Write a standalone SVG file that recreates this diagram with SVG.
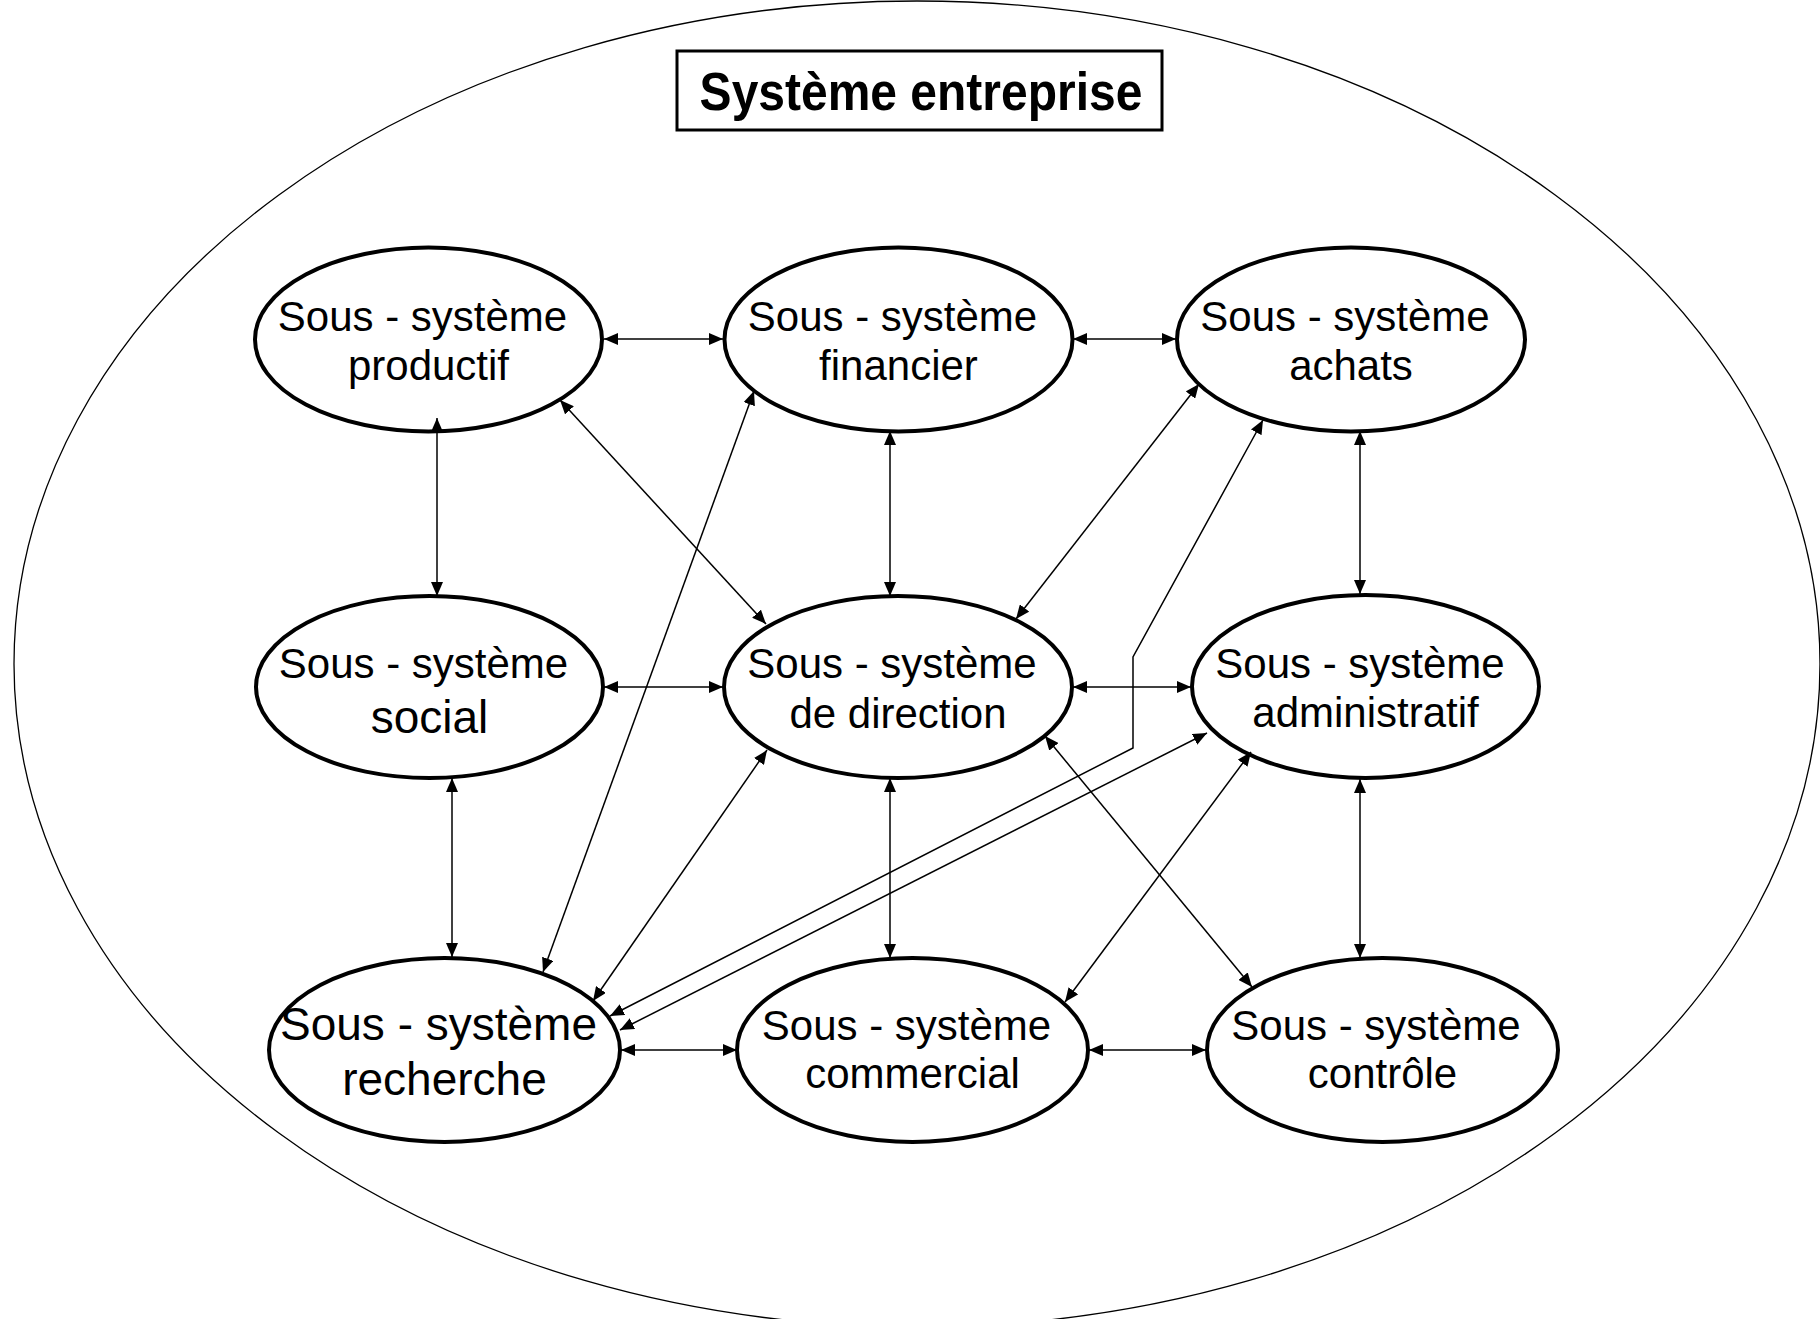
<svg xmlns="http://www.w3.org/2000/svg" width="1820" height="1319" viewBox="0 0 1820 1319">
<style>
.node{fill:#fff;stroke:#000;stroke-width:4}
.t{font-family:"Liberation Sans",Arial,sans-serif;font-size:42px;text-anchor:middle;fill:#000}
.big{font-size:46px}
.c{fill:none;stroke:#000;stroke-width:1.5;marker-start:url(#ah);marker-end:url(#ah)}
</style>
<defs>
<marker id="ah" markerUnits="userSpaceOnUse" markerWidth="14" markerHeight="12" refX="14" refY="6" orient="auto-start-reverse" viewBox="0 0 14 12">
<path d="M0,0 L14,6 L0,12 z" fill="#000"/>
</marker>
</defs>
<rect width="1820" height="1319" fill="#fff"/>
<ellipse id="outer" cx="917" cy="664" rx="903" ry="663" fill="none" stroke="#000" stroke-width="1.3"/>
<g id="title">
<rect x="677" y="51" width="485" height="79" fill="#fff" stroke="#000" stroke-width="3"/>
<text x="921" y="110" font-family="Liberation Sans,Arial,sans-serif" font-weight="bold" font-size="48" text-anchor="middle" transform="translate(0,-11) scale(1,1.1)">Système entreprise</text>
</g>
<g id="n-productif"><ellipse class="node" cx="428.5" cy="339.5" rx="173.5" ry="92"/><text class="t" x="422.5" y="331">Sous - système</text><text class="t" x="428.5" y="380">productif</text></g>
<g id="n-financier"><ellipse class="node" cx="898.5" cy="339.5" rx="174" ry="92"/><text class="t" x="892.5" y="331">Sous - système</text><text class="t" x="898.5" y="380">financier</text></g>
<g id="n-achats"><ellipse class="node" cx="1351" cy="339.5" rx="174" ry="92"/><text class="t" x="1345" y="331">Sous - système</text><text class="t" x="1351" y="380">achats</text></g>
<g id="n-social"><ellipse class="node" cx="429.5" cy="687" rx="173.5" ry="91"/><text class="t" x="423.5" y="678">Sous - système</text><text class="t big" x="429.5" y="733">social</text></g>
<g id="n-direction"><ellipse class="node" cx="898" cy="687" rx="174" ry="91"/><text class="t" x="892" y="678">Sous - système</text><text class="t" x="898" y="728">de direction</text></g>
<g id="n-administratif"><ellipse class="node" cx="1365.5" cy="686.5" rx="173.5" ry="91.5"/><text class="t" x="1360" y="678">Sous - système</text><text class="t" x="1365.5" y="727">administratif</text></g>
<g id="n-recherche"><ellipse class="node" cx="444.5" cy="1050" rx="175.5" ry="92"/><text class="t big" x="438.5" y="1040">Sous - système</text><text class="t big" x="444.5" y="1095">recherche</text></g>
<g id="n-commercial"><ellipse class="node" cx="912.5" cy="1050" rx="175.5" ry="92"/><text class="t" x="906.5" y="1040">Sous - système</text><text class="t" x="912.5" y="1088">commercial</text></g>
<g id="n-controle"><ellipse class="node" cx="1382.5" cy="1050" rx="175.5" ry="92"/><text class="t" x="1376" y="1040">Sous - système</text><text class="t" x="1382.5" y="1088">contrôle</text></g>
<g id="connectors">
<line class="c" x1="604" y1="339" x2="723" y2="339"/>
<line class="c" x1="1073" y1="339" x2="1176" y2="339"/>
<line class="c" x1="437" y1="418" x2="437" y2="596"/>
<line class="c" x1="560" y1="400" x2="766" y2="624"/>
<line class="c" x1="890" y1="431" x2="890" y2="596"/>
<line class="c" x1="1199" y1="384" x2="1016" y2="619"/>
<line class="c" x1="1360" y1="431" x2="1360" y2="594"/>
<polyline class="c" points="1263,420 1133,657 1133,748 610,1016"/>
<line class="c" x1="754" y1="391" x2="543" y2="972"/>
<line class="c" x1="604" y1="687" x2="723" y2="687"/>
<line class="c" x1="1073" y1="687" x2="1191" y2="687"/>
<line class="c" x1="452" y1="778" x2="452" y2="957"/>
<line class="c" x1="767" y1="750" x2="593" y2="1001"/>
<line class="c" x1="890" y1="778" x2="890" y2="958"/>
<line class="c" x1="1045" y1="736" x2="1252" y2="987"/>
<line class="c" x1="1065" y1="1002" x2="1251" y2="752"/>
<line class="c" x1="1360" y1="779" x2="1360" y2="958"/>
<line class="c" x1="620" y1="1030" x2="1207" y2="733"/>
<line class="c" x1="621" y1="1050" x2="737" y2="1050"/>
<line class="c" x1="1089" y1="1050" x2="1206" y2="1050"/>
</g>
</svg>
